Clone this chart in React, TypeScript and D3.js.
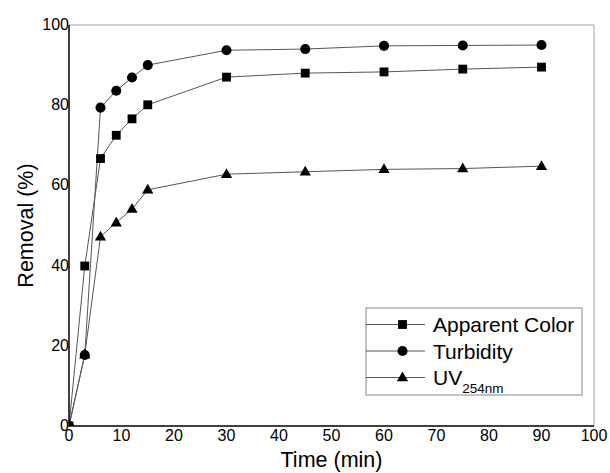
import React from "react";
import * as d3 from "d3";

const times = [0, 3, 6, 9, 12, 15, 30, 45, 60, 75, 90];
const apparentColor = [0, 39.9, 66.7, 72.5, 76.6, 80.1, 87.0, 88.0, 88.3, 89.0, 89.5];
const turbidity = [0, 17.7, 79.4, 83.6, 86.9, 90.0, 93.7, 94.0, 94.8, 94.9, 95.0];
const uv254 = [0, 17.8, 47.2, 50.7, 54.1, 58.9, 62.8, 63.4, 64.0, 64.2, 64.8];
const xTicks = [0, 10, 20, 30, 40, 50, 60, 70, 80, 90, 100];
const yTicks = [0, 20, 40, 60, 80, 100];

const W = 610, H = 473;
const L = 69, R = 594, T = 25, B = 426;
const FONT = "'Liberation Sans', Arial, sans-serif";

export default function App() {
  const x = d3.scaleLinear().domain([0, 100]).range([L, R]);
  const y = d3.scaleLinear().domain([0, 100]).range([B, T]);
  const line = d3.line<[number, number]>().x(d => x(d[0])).y(d => y(d[1]));

  const series = [
    { name: "Apparent Color", values: apparentColor, sym: d3.symbolSquare, size: 78 },
    { name: "Turbidity", values: turbidity, sym: d3.symbolCircle, size: 80 },
    { name: "UV", values: uv254, sym: d3.symbolTriangle, size: 55 },
  ];

  const legendX = 366, legendY = 308, legendW = 216, legendH = 87;
  const legendRows = [324.5, 351, 377.5];

  return (
    <svg width={W} height={H} style={{ position: "absolute", left: 0, top: 0, background: "#fff" }}>
      <defs>
        <clipPath id="plotclip">
          <rect x={L} y={T - 10} width={R - L + 10} height={B - T + 10} />
        </clipPath>
      </defs>
      <rect x={0} y={0} width={W} height={H} fill="#fff" />
      {/* frame top/right */}
      <line x1={L} y1={T} x2={R} y2={T} stroke="#a0a0a0" strokeWidth={1} />
      <line x1={R} y1={T} x2={R} y2={B} stroke="#a0a0a0" strokeWidth={1} />
      <g clipPath="url(#plotclip)">
        {series.map(s => (
          <path key={s.name + "l"} d={line(times.map((t, i) => [t, s.values[i]] as [number, number])) || ""}
            fill="none" stroke="#555" strokeWidth={1} />
        ))}
        {series.map(s => (
          <g key={s.name + "m"}>
            {times.map((t, i) => (
              <path key={i} d={d3.symbol().type(s.sym).size(s.size)() || ""}
                transform={`translate(${x(t)},${y(s.values[i]) + (s.sym === d3.symbolTriangle ? 0.5 : 0)})`} fill="#000" />
            ))}
          </g>
        ))}
      </g>
      {/* axes */}
      <line x1={L} y1={T} x2={L} y2={B + 0.75} stroke="#000" strokeWidth={1.5} />
      <line x1={L} y1={B} x2={R} y2={B} stroke="#000" strokeWidth={1.5} />
      {yTicks.map(v => (
        <text key={"y" + v} x={L} y={y(v) + 5} textAnchor="end" fontFamily={FONT} fontSize={16} fill="#000">{v}</text>
      ))}
      {xTicks.map(v => (
        <text key={"x" + v} x={x(v)} y={B + 14.5} textAnchor="middle" fontFamily={FONT} fontSize={16} fill="#000">{v}</text>
      ))}
      <text x={(L + R) / 2} y={467} textAnchor="middle" fontFamily={FONT} fontSize={21.5} fill="#000">Time (min)</text>
      <text transform={`translate(33,${(T + B) / 2}) rotate(-90)`} textAnchor="middle" fontFamily={FONT} fontSize={21.5} fill="#000">Removal (%)</text>
      {/* legend */}
      <rect x={legendX} y={legendY} width={legendW} height={legendH} fill="#fff" stroke="#888" strokeWidth={1} />
      {series.map((s, i) => (
        <g key={s.name + "leg"}>
          <line x1={legendX} y1={legendRows[i]} x2={425} y2={legendRows[i]} stroke="#555" strokeWidth={1} />
          <path d={d3.symbol().type(s.sym).size(s.size)() || ""} transform={`translate(402.5,${legendRows[i] + (s.sym === d3.symbolTriangle ? 0.5 : 0)})`} fill="#000" />
          <text x={433} y={legendRows[i] + 7.5} fontFamily={FONT} fontSize={21} fill="#000">
            {s.name}
            {s.name === "UV" ? <tspan fontSize={13.5} dy={7.5}>254nm</tspan> : null}
          </text>
        </g>
      ))}
    </svg>
  );
}
